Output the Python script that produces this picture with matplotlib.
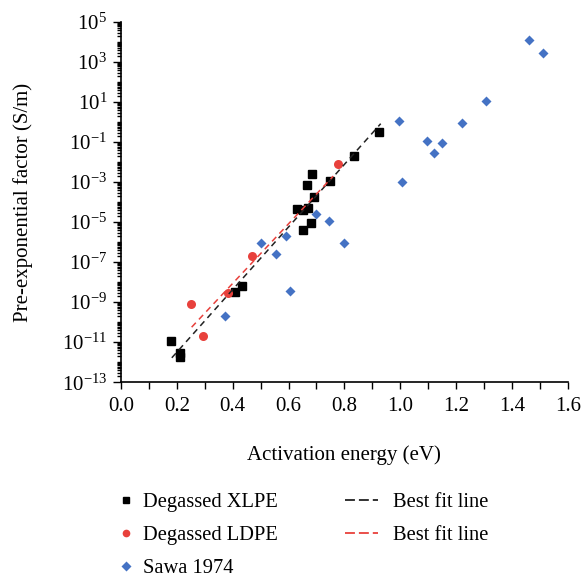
import numpy as np
import matplotlib
matplotlib.use('Agg')
from matplotlib import pyplot as plt
from matplotlib.lines import Line2D
from matplotlib.ticker import FixedLocator, LogLocator, MultipleLocator, NullFormatter

plt.rcParams['font.family'] = ['Liberation Serif', 'DejaVu Serif']
plt.rcParams['mathtext.fontset'] = 'custom'
plt.rcParams['mathtext.rm'] = 'Liberation Serif'
plt.rcParams['mathtext.it'] = 'Liberation Serif:italic'

# Degassed XLPE (activation energy eV, log10 of pre-exponential factor S/m)
xlpe_ea = [0.18, 0.21, 0.21, 0.41, 0.434, 0.629, 0.65, 0.668, 0.65, 0.682,
           0.684, 0.667, 0.691, 0.748, 0.834, 0.924]
xlpe_log = [-10.95, -11.55, -11.75, -8.5, -8.17, -4.35, -4.4, -4.3, -5.37, -5.05,
            -2.6, -3.15, -3.75, -2.95, -1.7, -0.5]

# Degassed LDPE
ldpe_ea = [0.251, 0.295, 0.382, 0.468, 0.778]
ldpe_log = [-9.1, -10.67, -8.53, -6.7, -2.11]

# Sawa 1974
sawa_ea = [0.371, 0.502, 0.555, 0.59, 0.605, 0.697, 0.745, 0.8, 0.997, 1.006,
           1.095, 1.119, 1.148, 1.22, 1.307, 1.462, 1.51]
sawa_log = [-9.68, -6.05, -6.6, -5.68, -8.43, -4.6, -4.95, -6.03, 0.07, -2.97,
            -0.97, -1.52, -1.05, -0.05, 1.04, 4.1, 3.47]

# best fit lines (end points)
fit_xlpe_ea = [0.182, 0.93]
fit_xlpe_log = [-11.78, -0.08]
fit_ldpe_ea = [0.253, 0.76]
fit_ldpe_log = [-10.25, -2.7]

red = '#e8413c'
blue = '#4472c4'
dark = '#222222'

fig = plt.figure(figsize=(5.83, 5.80), dpi=100)
ax = fig.add_axes([0.2075, 0.341, 0.7665, 0.621])

p = lambda v: 10.0 ** np.array(v)

h1, = ax.plot(xlpe_ea, p(xlpe_log), 's', color='black', ms=5.5, label='Degassed XLPE', zorder=3)
h2, = ax.plot(ldpe_ea, p(ldpe_log), 'o', color=red, ms=6.5, mec='none', label='Degassed LDPE', zorder=3)
h3, = ax.plot(sawa_ea, p(sawa_log), 'D', color=blue, ms=5.5, mec='none', label='Sawa 1974', zorder=3)
ax.plot(fit_xlpe_ea, p(fit_xlpe_log), '--', color=dark, lw=1.1, dashes=(4, 3), zorder=4)
ax.plot(fit_ldpe_ea, p(fit_ldpe_log), '--', color=red, lw=1.1, dashes=(4, 3), zorder=4)

ax.set_yscale('log')
ax.set_xlim(0, 1.6)
ax.set_ylim(1e-13, 1e5)
ax.xaxis.set_major_locator(MultipleLocator(0.2))
ax.xaxis.set_minor_locator(MultipleLocator(0.1))
ax.xaxis.set_major_formatter(plt.FuncFormatter(lambda v, pos: '%.1f' % v))
ax.yaxis.set_major_locator(FixedLocator(10.0 ** np.arange(-13, 6, 2)))
ax.yaxis.set_minor_locator(LogLocator(base=10, subs=np.arange(1, 10), numticks=100))
ax.yaxis.set_minor_formatter(NullFormatter())
ax.yaxis.set_major_formatter(plt.FuncFormatter(lambda v, pos: r'$10^{%d}$' % round(np.log10(v))))

for s in ['top', 'right']:
    ax.spines[s].set_visible(False)
for s in ['left', 'bottom']:
    ax.spines[s].set_linewidth(1.2)
ax.tick_params(which='both', direction='out', width=1.0, labelsize=15, colors='black')
ax.tick_params(axis='x', which='both', length=5, pad=6)
ax.tick_params(axis='y', which='major', length=6, pad=4)
ax.tick_params(axis='y', which='minor', length=3)

ax.set_xlabel('Activation energy (eV)', fontsize=15, labelpad=21)
ax.set_ylabel('Pre-exponential factor (S/m)', fontsize=15, labelpad=21)

# legend handles for the fit lines, with the longer dashes seen in the key
l1 = Line2D([], [], color=dark, lw=1.3, dashes=(5.5, 2.2), label='Best fit line')
l2 = Line2D([], [], color=red, lw=1.3, dashes=(5.5, 2.2), label='Best fit line')

leg_kw = dict(loc='upper left', frameon=False, fontsize=14.8, labelspacing=0.66,
              borderpad=0.0, borderaxespad=0.0)
leg1 = fig.legend(handles=[h1, h2, h3], bbox_to_anchor=(0.202, 0.151),
                  handlelength=0.8, handletextpad=0.43, markerscale=0.85, **leg_kw)
leg2 = fig.legend(handles=[l1, l2], bbox_to_anchor=(0.592, 0.151),
                  handlelength=1.6, handletextpad=0.73, **leg_kw)

fig.savefig('out.png', dpi=100)
